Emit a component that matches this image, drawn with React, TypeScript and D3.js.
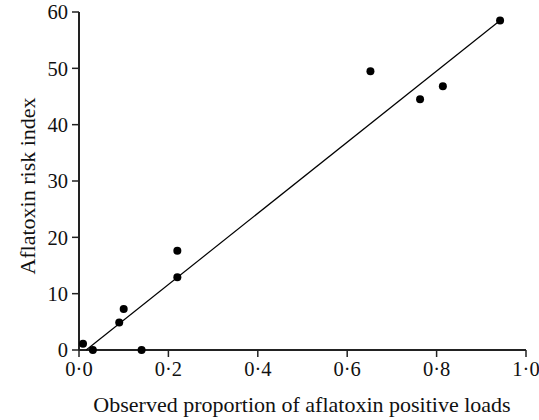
import React from 'react';
import * as d3 from 'd3';

// observed proportion vs risk index
const proportion = [0.009, 0.031, 0.09, 0.1, 0.14, 0.22, 0.22, 0.652, 0.763, 0.814, 0.942];
const riskIndex = [1.1, 0, 4.9, 7.3, 0, 17.6, 12.9, 49.5, 44.5, 46.8, 58.5];

// fitted line endpoints
const fitX = [0.016, 0.942];
const fitY = [0, 58.5];

const xTicks = [0, 0.2, 0.4, 0.6, 0.8, 1.0];
const yTicks = [0, 10, 20, 30, 40, 50, 60];

export default function App() {
  const width = 539;
  const height = 420;
  const margin = { top: 12, right: 12, bottom: 70, left: 79 };

  const x = d3.scaleLinear().domain([0, 1]).range([margin.left, width - margin.right - 1]);
  const y = d3.scaleLinear().domain([0, 60]).range([height - margin.bottom, margin.top]);

  const fmtX = (d: number) => d.toFixed(1).replace('.', '\u00B7');
  const line = d3.line<number>()
    .x((d) => x(d))
    .y((_, i) => y(fitY[i]));

  const font = '"Liberation Serif", "DejaVu Serif", serif';
  const axisColor = '#222';

  return (
    <svg width={width} height={height}
      style={{ position: 'absolute', left: 0, top: 0, background: '#fff' }}
      fontFamily={font}>
      {/* y axis */}
      <line x1={x(0)} x2={x(0)} y1={y(60)} y2={y(0)} stroke={axisColor} strokeWidth={2} />
      {yTicks.map((t) => (
        <g key={'y' + t}>
          <line x1={x(0) - 7} x2={x(0)} y1={y(t)} y2={y(t)} stroke={axisColor} strokeWidth={1.5} />
          <text x={x(0) - 11} y={y(t)} dy="0.35em" textAnchor="end" fontSize={20.5} fill="#111">{t}</text>
        </g>
      ))}
      {/* x axis */}
      <line x1={x(0)} x2={x(1)} y1={y(0)} y2={y(0)} stroke={axisColor} strokeWidth={2} />
      {xTicks.map((t) => (
        <g key={'x' + t}>
          <line x1={x(t)} x2={x(t)} y1={y(0)} y2={y(0) + 7} stroke={axisColor} strokeWidth={1.5} />
          <text x={x(t)} y={y(0) + 26} textAnchor="middle" fontSize={20.5} fill="#111">{fmtX(t)}</text>
        </g>
      ))}
      <text x={302} y={412} textAnchor="middle" fontSize={22} fill="#111">
        Observed proportion of aflatoxin positive loads
      </text>
      <text transform={`translate(35,186) rotate(-90)`} textAnchor="middle" fontSize={22} fill="#111">
        Aflatoxin risk index
      </text>
      {/* fitted line */}
      <path d={line(fitX) || ''} fill="none" stroke="#000" strokeWidth={1.2} />
      {proportion.map((p, i) => (
        <circle key={i} cx={x(p)} cy={y(riskIndex[i])} r={4} fill="#000" />
      ))}
    </svg>
  );
}
